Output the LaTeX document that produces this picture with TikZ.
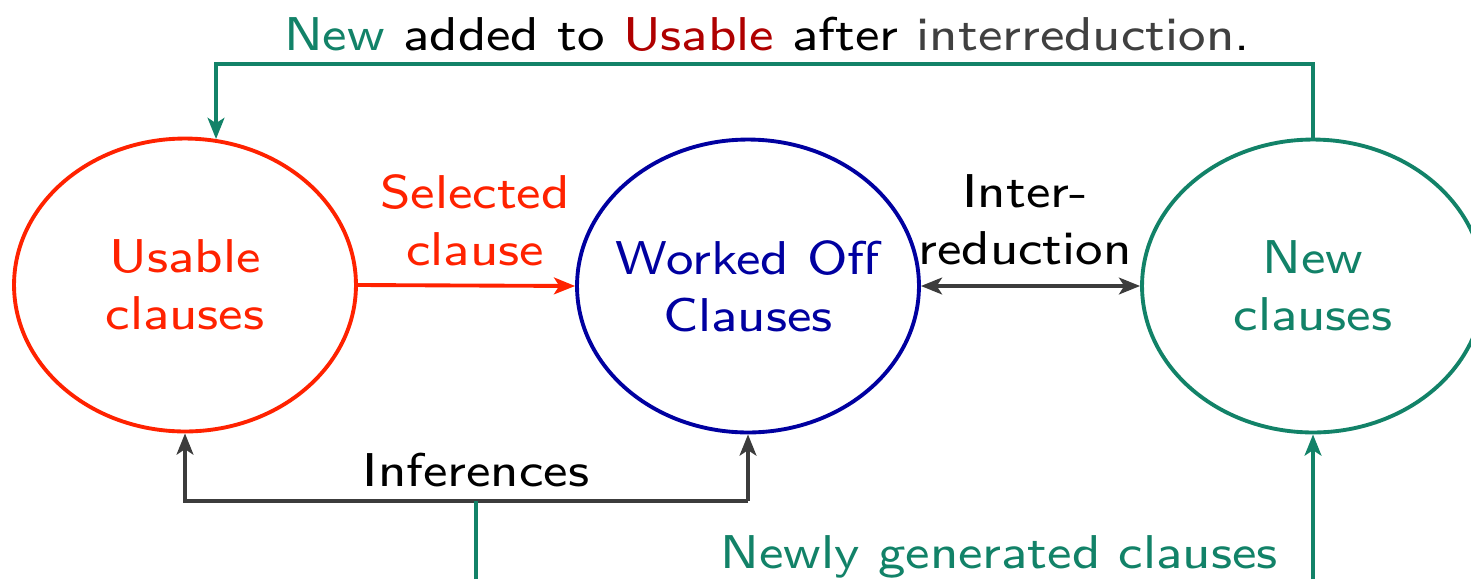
\documentclass[tikz,border=0pt]{standalone}
\usepackage{fontspec}
\setsansfont{lmsans8-regular.otf}[FakeStretch=1.09]
\usetikzlibrary{shapes.geometric,arrows.meta}
\definecolor{tealc}{RGB}{18,130,104}
\definecolor{redc}{RGB}{255,34,0}
\definecolor{dredc}{RGB}{175,0,0}
\definecolor{navyc}{RGB}{0,0,160}
\definecolor{grayc}{RGB}{60,60,60}
\definecolor{txtgray}{RGB}{64,64,64}
\tikzset{
  ell/.style={ellipse, draw, line width=2.2pt, minimum width=6.84cm, minimum height=5.86cm, inner sep=0pt},
  conn/.style={line width=2.2pt, -{Stealth[length=12pt,width=9.5pt,inset=3pt]}},
  dconn/.style={line width=2.2pt, {Stealth[length=12pt,width=9.5pt,inset=3pt]}-{Stealth[length=12pt,width=9.5pt,inset=3pt]}},
  plain/.style={line width=2.2pt},
  lbl/.style={align=center, inner sep=0pt}
}
\begin{document}
\begin{tikzpicture}[x=0.02cm,y=-0.02cm, font=\sffamily\fontsize{27}{32.5}\selectfont]
\clip (0,0) rectangle (1471,579);
\useasboundingbox (0,0) rectangle (1471,579);
% ellipses
\node[ell, draw=redc, label={[lbl,text=redc]center:Usable\\clauses}] (u) at (185,285) {};
\node[ell, draw=navyc, label={[lbl,text=navyc]center:Worked Off\\Clauses}] (w) at (748,286) {};
\node[ell, draw=tealc, label={[lbl,text=tealc]center:New\\clauses}] (n) at (1313,286) {};
% coordinates
\coordinate (top) at (0,64);
\coordinate (inf) at (0,501);
\coordinate (b1) at (476,579);
\coordinate (b2) at (1313,579);
% top loop
\draw[conn, tealc] (n.north) -- (n.north |- top) -- (u.78 |- top) -- (u.78);
\node[lbl, anchor=base] (toptxt) at (767,50) {\textcolor{tealc}{New} added to \textcolor{dredc}{Usable} after \textcolor{txtgray}{interreduction}.};
% selected clause
\draw[conn, redc] (u.east) -- (w.west);
\node[lbl, text=redc] (sel) at (475,220) {Selected\\clause};
% interreduction
\draw[dconn, grayc] (w.east) -- (n.west);
\node[lbl] (inter) at (1025,220) {Inter-\\reduction};
% inferences
\draw[conn, grayc] (w.south |- inf) -- (w.south);
\draw[conn, grayc] (w.south |- inf) -- (u.south |- inf) -- (u.south);
\node[lbl, anchor=base] (inftxt) at (476,486) {Inferences};
\draw[plain, tealc] (b1) -- (b1 |- inf);
% newly generated
\draw[conn, tealc] (b2) -- (n.south);
\node[lbl, anchor=base east, text=tealc] (newtxt) at (1278,568) {Newly generated clauses};
\end{tikzpicture}
\end{document}
